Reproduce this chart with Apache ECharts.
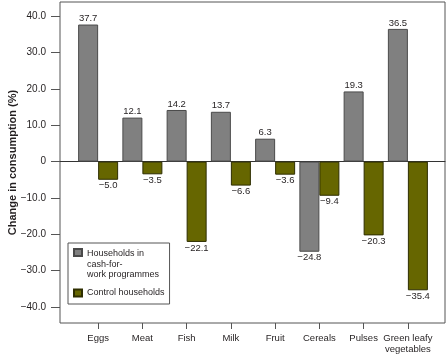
<!DOCTYPE html>
<html>
<head>
<meta charset="utf-8">
<script src="https://cdn.jsdelivr.net/npm/echarts@6/dist/echarts.min.js"></script>
<style>
  html, body { margin: 0; padding: 0; background: #fff; }
  #chart { width: 447px; height: 356px; }
</style>
</head>
<body>
<div id="chart"></div>
<script>
const categories = ['Eggs', 'Meat', 'Fish', 'Milk', 'Fruit', 'Cereals', 'Pulses', 'Green leafy\nvegetables'];
const cashForWork = [37.7, 12.1, 14.2, 13.7, 6.3, -24.8, 19.3, 36.5];
const control = [-5.0, -3.5, -22.1, -6.6, -3.6, -9.4, -20.3, -35.4];
const yTicks = [-40, -30, -20, -10, 0, 10, 20, 30, 40];
const seriesNames = ['Households in cash-for-work programmes', 'Control households'];
const legendLabels = ['Households in\ncash-for-\nwork programmes', 'Control households'];

const FONT = '"Liberation Sans", Arial, sans-serif';
const TEXT = '#231f20';
const Y_MIN = -44.4;
const Y_MAX = 43.9;

const fmt = v => (v === 0 ? '0' : v.toFixed(1).replace('-', '\u2212'));

// label above positive bars, below negative ones
const barData = values => values.map(v => ({
  value: v,
  label: { position: v < 0 ? 'bottom' : 'top' }
}));

const chart = echarts.init(document.getElementById('chart'));

const barLabel = {
  show: true,
  distance: 1,
  color: TEXT,
  fontFamily: FONT,
  fontSize: 9.5,
  formatter: p => fmt(p.value)
};

chart.setOption({
  animation: false,
  textStyle: { fontFamily: FONT },
  // grid 0 = outer frame + y axis, grid 1 = inset band for the bars
  grid: [
    { left: 60, right: 2, top: 2, bottom: 33, show: true, borderColor: '#555', borderWidth: 1, outerBoundsMode: 'none' },
    { left: 76, right: 17, top: 2, bottom: 33, outerBoundsMode: 'none' }
  ],
  legend: {
    orient: 'vertical',
    left: 68,
    top: 243,
    itemWidth: 8,
    itemHeight: 31,
    itemGap: -4.5,
    padding: [5, 5, -5.5, 5],
    borderColor: '#555',
    borderWidth: 1,
    textStyle: { fontFamily: FONT, fontSize: 9, lineHeight: 10.5, color: TEXT },
    // icons drawn as paths so the swatch sits on the first text line
    data: [
      { name: seriesNames[0], icon: 'path://M0,0H8V7H0Z M0,31L0,31' },
      { name: seriesNames[1], icon: 'path://M0,12H8V19H0Z M0,0L0,0 M0,31L0,31' }
    ],
    formatter: name => legendLabels[seriesNames.indexOf(name)]
  },
  xAxis: [
    {
      gridIndex: 0,
      type: 'value',
      min: 0,
      max: 1,
      axisLine: { show: true, onZero: true, lineStyle: { color: '#333', width: 1 } },
      axisTick: { show: false },
      axisLabel: { show: false },
      splitLine: { show: false }
    },
    {
      gridIndex: 1,
      type: 'category',
      data: categories,
      position: 'bottom',
      axisLine: { show: false, onZero: false },
      axisTick: { show: true, alignWithLabel: true, length: 6, lineStyle: { color: '#555' } },
      axisLabel: { margin: 10, color: TEXT, fontFamily: FONT, fontSize: 9.5, lineHeight: 11, interval: 0 },
      splitLine: { show: false }
    }
  ],
  yAxis: [
    {
      gridIndex: 0,
      type: 'value',
      min: Y_MIN,
      max: Y_MAX,
      name: 'Change in consumption (%)',
      nameLocation: 'middle',
      nameGap: 42,
      nameMoveOverlap: false,
      nameTextStyle: { fontFamily: FONT, fontSize: 11, fontWeight: 'bold', color: TEXT },
      axisLine: { show: false },
      axisTick: { show: true, length: 9, customValues: yTicks, lineStyle: { color: '#555' } },
      axisLabel: { margin: 14, color: TEXT, fontFamily: FONT, fontSize: 10, customValues: yTicks, formatter: v => fmt(v) },
      splitLine: { show: false }
    },
    {
      gridIndex: 1,
      type: 'value',
      min: Y_MIN,
      max: Y_MAX,
      show: false,
      splitLine: { show: false }
    }
  ],
  series: [
    {
      name: seriesNames[0],
      type: 'bar',
      xAxisIndex: 1,
      yAxisIndex: 1,
      barWidth: 20,
      barGap: '0%',
      itemStyle: { color: '#808080', borderColor: '#4a4a4a', borderWidth: 1 },
      label: barLabel,
      data: barData(cashForWork)
    },
    {
      name: seriesNames[1],
      type: 'bar',
      xAxisIndex: 1,
      yAxisIndex: 1,
      barWidth: 20,
      barGap: '0%',
      itemStyle: { color: '#666600', borderColor: '#2e2e00', borderWidth: 1 },
      label: barLabel,
      data: barData(control)
    }
  ]
});
</script>
</body>
</html>
